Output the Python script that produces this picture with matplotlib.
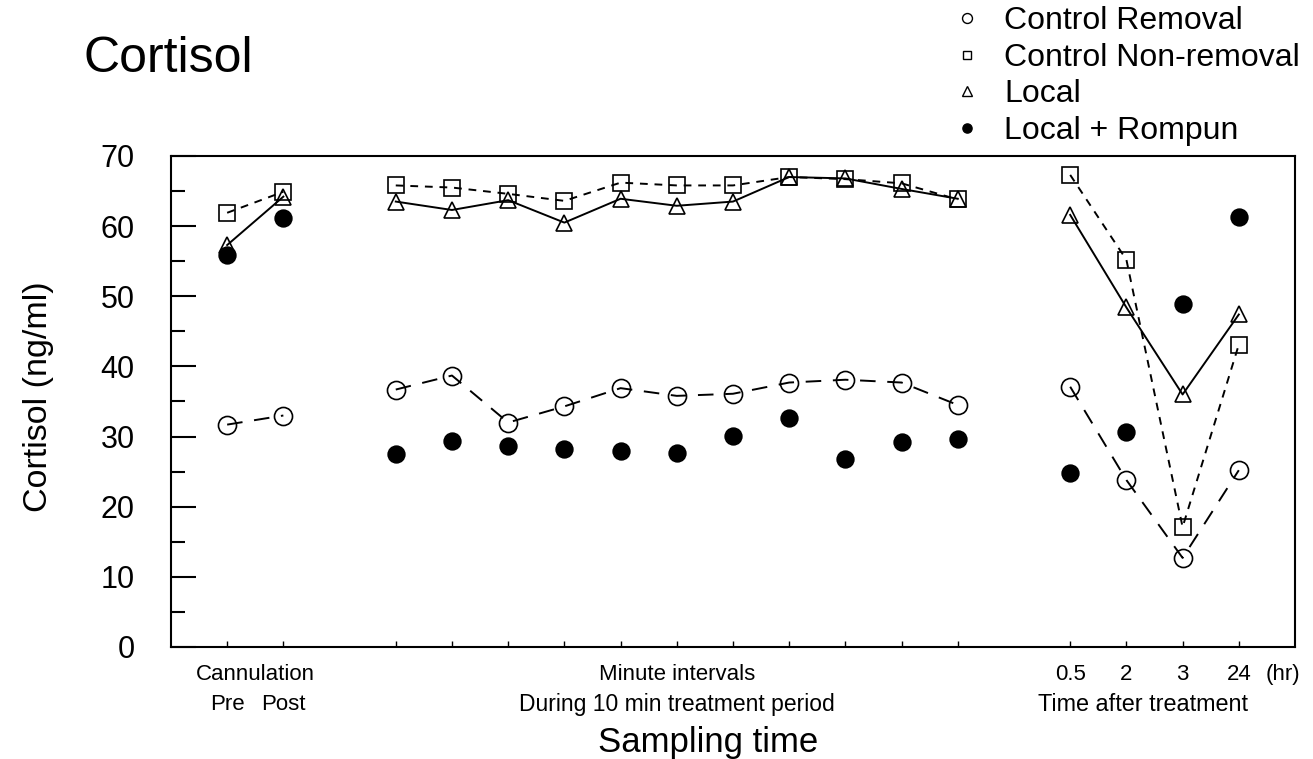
import matplotlib
matplotlib.use('agg')
import matplotlib.pyplot as plt
from matplotlib.lines import Line2D
from matplotlib.ticker import MultipleLocator
from matplotlib.transforms import blended_transform_factory

plt.rcParams['font.family'] = ['Liberation Sans', 'DejaVu Sans']

# sampling groups: cannulation, 10 min treatment, hours after treatment
groups = [
    ['Pre', 'Post'],
    ['', '', '', '', '', '', '', '', '', '', ''],
    ['0.5', '2', '3', '24'],
]

removal = [31.7, 33.0,
           36.7, 38.7, 32.0, 34.3, 36.9, 35.8, 36.1, 37.7, 38.1, 37.7, 34.5,
           37.1, 23.8, 12.7, 25.2]
nonremoval = [61.9, 64.9,
              65.8, 65.5, 64.6, 63.6, 66.2, 65.8, 65.8, 67.0, 66.7, 66.1, 63.8,
              67.3, 55.2, 17.1, 43.1]
local = [57.3, 64.2,
         63.5, 62.3, 63.7, 60.5, 63.9, 62.9, 63.5, 67.0, 66.8, 65.3, 63.9,
         61.6, 48.4, 36.0, 47.4]
rompun = [55.9, 61.2,
          27.5, 29.4, 28.7, 28.2, 28.0, 27.7, 30.1, 32.7, 26.8, 29.2, 29.7,
          24.8, 30.7, 48.9, 61.3]

labels = ['Control Removal', 'Control Non-removal', 'Local', 'Local + Rompun']

# x positions: one slot per sample, one empty slot between groups
positions = []
segments = []
x = 1
for g in groups:
    seg = []
    for _ in g:
        seg.append(len(positions))
        positions.append(x)
        x += 1
    segments.append(seg)
    x += 1

series = [
    (removal, dict(marker='o', ms=13, mfc='none', ls=(0, (8, 6)))),
    (nonremoval, dict(marker='s', ms=11, mfc='none', ls=(0, (4, 3.5)))),
    (local, dict(marker='^', ms=12, mfc='none', ls='-')),
    (rompun, dict(marker='o', ms=12, mfc='black', ls='none')),
]

fig = plt.figure(figsize=(13.13, 7.59), dpi=100)
ax = fig.add_axes([0.1302, 0.1476, 0.8561, 0.6469])

for vals, style in series:
    for seg in segments:
        ax.plot([positions[i] for i in seg], [vals[i] for i in seg],
                color='black', lw=1.4, mec='black', mew=1.2, **style)

ax.set_xlim(0, 20)
ax.set_ylim(0, 70)
ax.yaxis.set_major_locator(MultipleLocator(10))
ax.yaxis.set_minor_locator(MultipleLocator(5))
ax.set_xticks(positions)
ax.set_xticklabels([])
ax.tick_params(axis='y', which='major', direction='in', length=18, width=1.5,
               labelsize=22, pad=26)
ax.tick_params(axis='y', which='minor', direction='in', length=10, width=1.5)
ax.tick_params(axis='x', direction='in', length=4, width=1)
for s in ax.spines.values():
    s.set_linewidth(1.5)

ax.set_ylabel('Cortisol (ng/ml)', fontsize=24.5)
ax.yaxis.set_label_coords(-0.104, 0.51)

trans = blended_transform_factory(ax.transData, ax.transAxes)
row1, row2 = -0.057, -0.118
fs = 16
pre_post = [positions[i] for i in segments[0]]
ax.text(sum(pre_post) / 2, row1, 'Cannulation', transform=trans,
        ha='center', va='center', fontsize=fs)
for i in segments[0]:
    ax.text(positions[i], row2, groups[0][i], transform=trans,
            ha='center', va='center', fontsize=fs)
mid = [positions[i] for i in segments[1]]
ax.text((mid[0] + mid[-1]) / 2, row1, 'Minute intervals', transform=trans,
        ha='center', va='center', fontsize=fs)
ax.text((mid[0] + mid[-1]) / 2, row2, 'During 10 min treatment period',
        transform=trans, ha='center', va='center', fontsize=16.5)
hrs = [positions[i] for i in segments[2]]
for k, i in enumerate(segments[2]):
    ax.text(positions[i], row1, groups[2][k], transform=trans,
            ha='center', va='center', fontsize=fs)
ax.text(hrs[-1] + 0.79, row1, '(hr)', transform=trans,
        ha='center', va='center', fontsize=fs)
ax.text((hrs[0] + hrs[-1]) / 2 - 0.2, row2, 'Time after treatment',
        transform=trans, ha='center', va='center', fontsize=16.8)

ax.text(0.478, -0.195, 'Sampling time', transform=ax.transAxes,
        ha='center', va='center', fontsize=25)

fig.text(83 / 1313, 1 - 72 / 759, 'Cortisol', fontsize=36, va='baseline')

handles = []
for (vals, style), lab in zip(series, labels):
    st = dict(style)
    st['ls'] = 'none'
    handles.append(Line2D([], [], color='black', mec='black', mew=1.0,
                          label=lab, **st))
fig.legend(handles=handles, loc='upper left', bbox_to_anchor=(0.727, 0.992),
           frameon=False, fontsize=23, markerscale=0.55, handlelength=0.8,
           handletextpad=0.75, labelspacing=0.21, borderpad=0, borderaxespad=0)

fig.savefig('out.png', dpi=100)
